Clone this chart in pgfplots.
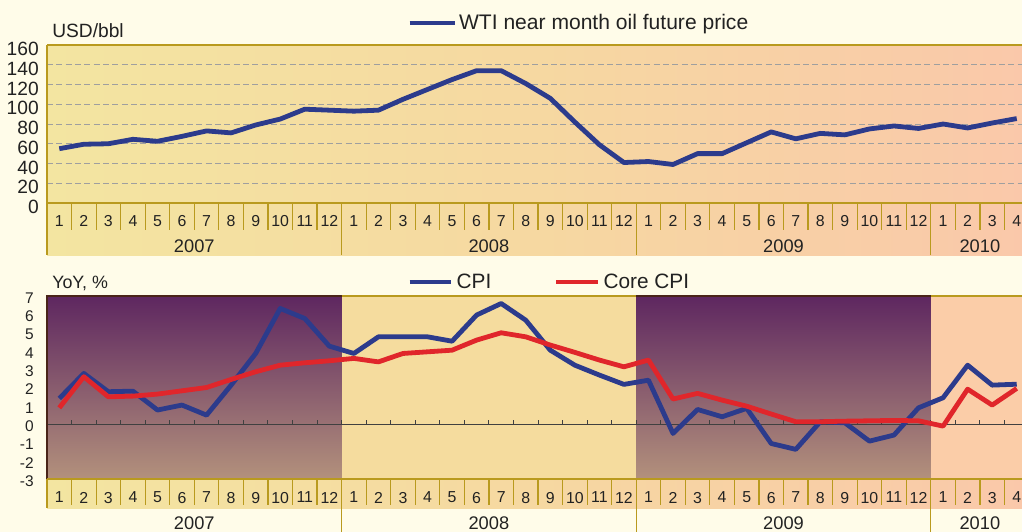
\documentclass[border=0pt]{standalone}
\usepackage{pgfplots}
\pgfplotsset{compat=1.18}
\usepackage{fontspec}
\setmainfont{Liberation Sans}
\definecolor{cream}{HTML}{FFFCE9}
\definecolor{gold}{HTML}{B99A1E}
\definecolor{wtiblue}{HTML}{2C3B8C}
\definecolor{corered}{HTML}{E0262B}
\definecolor{bgyel}{HTML}{F3E5A1}
\definecolor{bgmid}{HTML}{F6D8A1}
\definecolor{bgpeach}{HTML}{FAC8AA}
\definecolor{purtop}{HTML}{5E2760}
\definecolor{purbot}{HTML}{B3917C}
\definecolor{yel08}{HTML}{F5DC9E}
\definecolor{peach10}{HTML}{FBCDA8}
\definecolor{darkedge}{HTML}{4A2418}
\definecolor{txt}{HTML}{222222}
\newcommand{\monthlabels}{1,2,3,4,5,6,7,8,9,10,11,12,1,2,3,4,5,6,7,8,9,10,11,12,1,2,3,4,5,6,7,8,9,10,11,12,1,2,3,4}
\begin{document}
\begin{tikzpicture}
\useasboundingbox (0pt,0pt) rectangle (766.5pt,-399pt);
\clip (0pt,0pt) rectangle (766.5pt,-399pt);
\begin{scope}[x=0.75pt,y=-0.75pt]
\fill[cream] (0,0) rectangle (1022,532);
\shade[left color=bgyel,right color=bgpeach,middle color=bgmid] (47,45) rectangle (1029,255);
\shade[top color=purtop,bottom color=purbot] (47,296) rectangle (341.6,479);
\fill[yel08] (341.6,296) rectangle (636.2,479);
\shade[top color=purtop,bottom color=purbot] (636.2,296) rectangle (930.8,479);
\fill[peach10] (930.8,296) rectangle (1029,479);
\shade[left color=bgyel,right color=bgpeach,middle color=bgmid] (47,479) rectangle (1029,508);
\node[anchor=base west,inner sep=0pt,text=txt,font=\fontsize{14.4}{16}\selectfont] at (52,37.7) {USD/bbl};
\node[anchor=base west,inner sep=0pt,text=txt,font=\fontsize{13.4}{15}\selectfont] at (52,288) {YoY, \%};
\end{scope}

% ---------------- top panel ----------------
\begin{axis}[
  at={(35.25pt,-152.25pt)}, anchor=south west,
  scale only axis, width=736.5pt, height=118.5pt,
  xmin=0.5, xmax=40.5, ymin=0, ymax=160,
  axis line style={draw=none},
  ytick={0,20,...,160},
  xtick={1,...,40},
  xticklabels/.expanded={\monthlabels},
  major tick length=0pt,
  ymajorgrids,
  grid style={draw=gray!75, dash pattern=on 4.5pt off 2.5pt, line width=0.75pt},
  clip=false,
  /pgf/number format/assume math mode=true,
  yticklabel style={anchor=east,inner sep=0pt,xshift=-6pt,yshift=-3pt,font=\fontsize{14.4}{16}\selectfont,text=txt},
  xticklabel style={anchor=center,inner sep=0pt,yshift=-13.5pt,font=\fontsize{11.9}{13}\selectfont,text=txt},
  legend style={draw=none, fill=none, inner sep=0pt, at={(axis description cs:0.3666,1.139)}, anchor=west,
     font=\fontsize{15.8}{18}\selectfont, text=txt, nodes={inner sep=0pt}, column sep=1.5pt},
  legend image code/.code={\draw[#1] (0pt,0pt) -- (33.75pt,0pt);},
]
\draw[gold,line width=1pt] (axis cs:0.5,0) -- (axis cs:40.5,0);
\draw[gold,line width=1pt] (axis cs:0.5,160) -- (axis cs:40.5,160);
\draw[gold,line width=1pt] (axis cs:0.5,160) -- (axis cs:0.5,0) -- ++(0pt,-39pt);
\pgfplotsinvokeforeach{1.5,2.5,...,39.5}{\draw[gold,line width=0.9pt] (axis cs:#1,0) -- ++(0pt,-20.25pt);}
\pgfplotsinvokeforeach{12.5,24.5,36.5}{\draw[gold,line width=0.9pt] (axis cs:#1,0) -- ++(0pt,-39pt);}
\node[text=txt,font=\fontsize{13.7}{15}\selectfont,yshift=-32.6pt] at (axis cs:6.5,0) {2007};
\node[text=txt,font=\fontsize{13.7}{15}\selectfont,yshift=-32.6pt] at (axis cs:18.5,0) {2008};
\node[text=txt,font=\fontsize{13.7}{15}\selectfont,yshift=-32.6pt] at (axis cs:30.5,0) {2009};
\node[text=txt,font=\fontsize{13.7}{15}\selectfont,yshift=-32.6pt] at (axis cs:38.5,0) {2010};
\addplot[wtiblue, line width=3.6pt, line join=round] coordinates {
(1,55) (2,59.5) (3,60) (4,64.5) (5,62.5) (6,67.5) (7,73) (8,71) (9,79) (10,85)
(11,95) (12,94) (13,93) (14,94) (15,105) (16,115) (17,125) (18,134) (19,134) (20,121)
(21,106) (22,82) (23,59) (24,41) (25,42) (26,39) (27,50) (28,50) (29,61) (30,72)
(31,65) (32,70.5) (33,69) (34,75) (35,78) (36,75.5) (37,80) (38,76) (39,81) (40,85.5)};
\addlegendentry{WTI near month oil future price}
\end{axis}

% ---------------- bottom panel ----------------
\begin{axis}[
  at={(35.25pt,-359.25pt)}, anchor=south west,
  scale only axis, width=736.5pt, height=137.25pt,
  xmin=0.5, xmax=40.5, ymin=-3, ymax=7,
  axis line style={draw=none},
  ytick={-3,-2,...,7},
  xtick={1,...,40},
  xticklabels/.expanded={\monthlabels},
  major tick length=0pt,
  clip=false,
  /pgf/number format/assume math mode=true,
  yticklabel style={anchor=east,inner sep=0pt,xshift=-9.75pt,yshift=-1.5pt,font=\fontsize{11.6}{13}\selectfont,text=txt},
  xticklabel style={anchor=center,inner sep=0pt,yshift=-13.9pt,font=\fontsize{11.9}{13}\selectfont,text=txt},
  legend columns=2,
  legend style={draw=none, fill=none, inner sep=0pt, at={(axis description cs:0.3666,1.0765)}, anchor=west,
     font=\fontsize{15.6}{18}\selectfont, text=txt, nodes={inner sep=0pt}, column sep=2.5pt,
     /tikz/every even column/.append style={column sep=47pt}},
  legend image code/.code={\draw[#1] (0pt,0pt) -- (31pt,0pt);},
]
\draw[black!75,line width=0.75pt] (axis cs:0.5,0) -- (axis cs:40.5,0);
\pgfplotsinvokeforeach{1.5,2.5,...,39.5}{\draw[black!75,line width=0.75pt] (axis cs:#1,0) -- ++(0pt,3pt);}
\draw[darkedge,line width=1pt] (axis cs:0.5,-3) -- (axis cs:0.5,7) -- (axis cs:12.5,7);
\draw[gold,line width=1pt] (axis cs:12.5,7) -- (axis cs:24.5,7);
\draw[darkedge,line width=1pt] (axis cs:24.5,7) -- (axis cs:36.5,7);
\draw[gold,line width=1pt] (axis cs:36.5,7) -- (axis cs:40.5,7);
\draw[gold,line width=1pt] (axis cs:0.5,-3) -- (axis cs:40.5,-3);
\draw[gold,line width=1pt] (axis cs:0.5,-3) -- ++(0pt,-21.75pt);
\pgfplotsinvokeforeach{1.5,2.5,...,39.5}{\draw[gold,line width=0.9pt] (axis cs:#1,-3) -- ++(0pt,-19.5pt);}
\pgfplotsinvokeforeach{12.5,24.5,36.5}{\draw[gold,line width=0.9pt] (axis cs:#1,-3) -- ++(0pt,-40pt);}
\node[text=txt,font=\fontsize{13.7}{15}\selectfont,yshift=-33pt] at (axis cs:6.5,-3) {2007};
\node[text=txt,font=\fontsize{13.7}{15}\selectfont,yshift=-33pt] at (axis cs:18.5,-3) {2008};
\node[text=txt,font=\fontsize{13.7}{15}\selectfont,yshift=-33pt] at (axis cs:30.5,-3) {2009};
\node[text=txt,font=\fontsize{13.7}{15}\selectfont,yshift=-33pt] at (axis cs:38.5,-3) {2010};
\addplot[wtiblue, line width=3.6pt, line join=round] coordinates {
(1,1.40) (2,2.77) (3,1.77) (4,1.80) (5,0.77) (6,1.04) (7,0.49) (8,2.13) (9,3.86) (10,6.32)
(11,5.77) (12,4.26) (13,3.86) (14,4.77) (15,4.77) (16,4.77) (17,4.53) (18,5.96) (19,6.59) (20,5.68)
(21,4.04) (22,3.22) (23,2.68) (24,2.17) (25,2.40) (26,-0.51) (27,0.80) (28,0.40) (29,0.86) (30,-1.06)
(31,-1.38) (32,0.13) (33,0.07) (34,-0.93) (35,-0.60) (36,0.89) (37,1.44) (38,3.22) (39,2.13) (40,2.18)};
\addlegendentry{CPI}
\addplot[corered, line width=3.6pt, line join=round] coordinates {
(1,0.89) (2,2.59) (3,1.49) (4,1.53) (5,1.64) (6,1.82) (7,2.00) (8,2.44) (9,2.86) (10,3.22)
(11,3.35) (12,3.46) (13,3.59) (14,3.40) (15,3.86) (16,3.95) (17,4.04) (18,4.59) (19,4.99) (20,4.77)
(21,4.32) (22,3.92) (23,3.50) (24,3.13) (25,3.50) (26,1.37) (27,1.68) (28,1.31) (29,0.98) (30,0.55)
(31,0.13) (32,0.13) (33,0.16) (34,0.18) (35,0.20) (36,0.18) (37,-0.11) (38,1.91) (39,1.04) (40,1.95)};
\addlegendentry{Core CPI}
\end{axis}
\end{tikzpicture}
\end{document}
